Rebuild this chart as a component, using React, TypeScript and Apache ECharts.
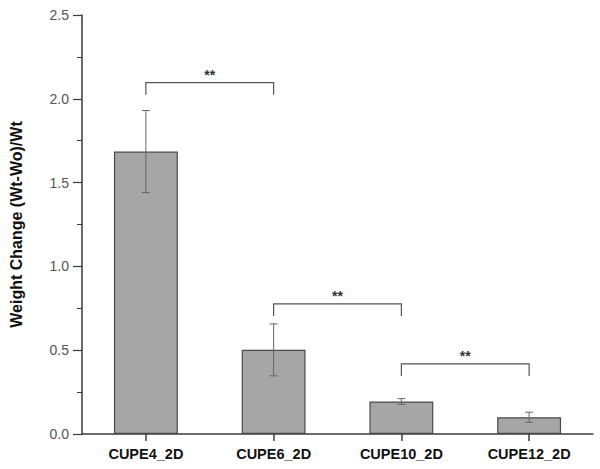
import React, { useEffect, useRef } from "react";
import * as echarts from "echarts";

const categories = ["CUPE4_2D", "CUPE6_2D", "CUPE10_2D", "CUPE12_2D"];
const means = [1.685, 0.502, 0.194, 0.1];
const errors = [0.245, 0.155, 0.017, 0.03];
// [fromIndex, toIndex, bracketValue]
const brackets = [
  [0, 1, 2.096],
  [1, 2, 0.776],
  [2, 3, 0.418],
];
const sigLabel = "**";
const yTitle = "Weight Change (Wt-Wo)/Wt";

export default function App() {
  const ref = useRef<HTMLDivElement>(null);
  useEffect(() => {
    if (!ref.current) return;
    const chart = echarts.init(ref.current, null, { renderer: "svg" });
    const axisColor = "#3a3a3a";
    chart.setOption({
      animation: false,
      grid: { left: 77, right: 7, top: 15, bottom: 35, containLabel: false },
      xAxis: {
        type: "category",
        data: categories,
        axisLine: { show: true, lineStyle: { color: axisColor, width: 1.5 } },
        axisTick: { show: true, alignWithLabel: true, length: 7, lineStyle: { color: axisColor, width: 1.5 } },
        axisLabel: {
          color: "#111",
          fontFamily: "Liberation Sans, Arial, sans-serif",
          fontWeight: "bold",
          fontSize: 14.5,
          margin: 12,
        },
      },
      yAxis: {
        type: "value",
        min: 0,
        max: 2.5,
        interval: 0.5,
        name: yTitle,
        nameLocation: "middle",
        nameGap: 58,
        nameTextStyle: {
          color: "#111",
          fontFamily: "Liberation Sans, Arial, sans-serif",
          fontWeight: "bold",
          fontSize: 16,
        },
        axisLine: { show: true, lineStyle: { color: axisColor, width: 1.5 } },
        axisTick: { show: true, length: 9, lineStyle: { color: axisColor, width: 1.2 } },
        minorTick: { show: true, splitNumber: 2, length: 5, lineStyle: { color: axisColor, width: 1 } },
        splitLine: { show: false },
        axisLabel: {
          color: "#555",
          fontFamily: "Liberation Sans, Arial, sans-serif",
          fontSize: 14,
          margin: 13,
          formatter: (v: number) => v.toFixed(1),
        },
      },
      series: [
        {
          type: "bar",
          data: means,
          barWidth: "50%",
          itemStyle: { color: "#a6a6a6", borderColor: "#4a4a4a", borderWidth: 1.2 },
        },
        {
          type: "custom",
          data: means.map((m, i) => [i, m - errors[i], m + errors[i]]),
          renderItem: (params: any, api: any) => {
            const lo = api.coord([api.value(0), api.value(1)]);
            const hi = api.coord([api.value(0), api.value(2)]);
            const cw = 4;
            const style = { stroke: "#666", lineWidth: 1 };
            return {
              type: "group",
              children: [
                { type: "line", shape: { x1: lo[0], y1: lo[1], x2: hi[0], y2: hi[1] }, style },
                { type: "line", shape: { x1: lo[0] - cw, y1: lo[1], x2: lo[0] + cw, y2: lo[1] }, style },
                { type: "line", shape: { x1: hi[0] - cw, y1: hi[1], x2: hi[0] + cw, y2: hi[1] }, style },
              ],
            };
          },
          z: 5,
        },
        {
          type: "custom",
          data: brackets,
          renderItem: (params: any, api: any) => {
            const p1 = api.coord([api.value(0), api.value(2)]);
            const p2 = api.coord([api.value(1), api.value(2)]);
            const drop = 12;
            return {
              type: "group",
              children: [
                {
                  type: "polyline",
                  shape: {
                    points: [
                      [p1[0], p1[1] + drop],
                      [p1[0], p1[1]],
                      [p2[0], p2[1]],
                      [p2[0], p2[1] + drop],
                    ],
                  },
                  style: { stroke: "#555", lineWidth: 1.2, fill: "none" },
                },
                {
                  type: "text",
                  x: (p1[0] + p2[0]) / 2,
                  y: p1[1] - 1,
                  style: {
                    text: sigLabel,
                    textAlign: "center",
                    textVerticalAlign: "bottom",
                    fill: "#333",
                    font: "bold 14px Liberation Sans, Arial, sans-serif",
                  },
                },
              ],
            };
          },
          z: 5,
        },
      ],
    });
    return () => chart.dispose();
  }, []);
  return <div ref={ref} style={{ width: 600, height: 469, position: "absolute", left: 0, top: 0 }} />;
}
